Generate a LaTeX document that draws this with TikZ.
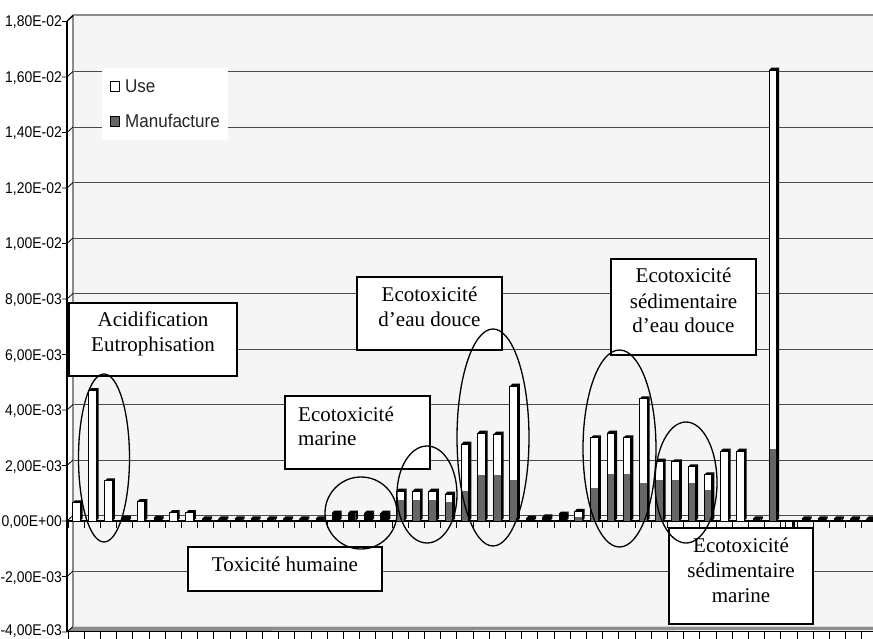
\documentclass[tikz,border=0pt]{standalone}
\usepackage{fontspec}
\setmainfont{Liberation Serif}
\newfontfamily\axisfont[FakeStretch=0.9]{Liberation Sans}
\newfontfamily\legfont[FakeStretch=0.92]{Liberation Sans}
\definecolor{wallfill}{HTML}{F5F5F5}
\definecolor{manu}{HTML}{666666}
\definecolor{wallline}{HTML}{8C8C8C}
\definecolor{gridc}{HTML}{4A4A4A}
\newcommand\mybar[3]{%
  \pgfmathsetmacro\xa{68+16.2*#1+4.5}%
  \pgfmathsetmacro\xb{\xa+7.5}%
  \pgfmathsetmacro\yt{521-27.75*#2}%
  \pgfmathsetmacro\ym{521-27.75*#3}%
  \pgfmathparse{#2<0.29 ? 1 : 0}%
  \fill[black] (\xb,521) -- (\xb,\yt) -- (\xb+2.5,\yt-2.5) -- (\xb+2.5,518.5) -- cycle;
  \fill[black] (\xa,\yt) -- (\xa+2.5,\yt-2.5) -- (\xb+2.5,\yt-2.5) -- (\xb,\yt) -- cycle;
  \ifnum\pgfmathresult=1
    \fill[black] (\xa,\yt) rectangle (\xb,521);
  \else
    \fill[white] (\xa,\yt) rectangle (\xb,\ym);
    \fill[manu] (\xa,\ym) rectangle (\xb,521);
    \draw[black, line width=1pt] (\xa,521) rectangle (\xb,\yt);
  \fi
}
\tikzset{
  note/.style={draw=black, line width=1.8pt, fill=white},
  boxtext/.style={font=\fontsize{21}{25}\selectfont, inner sep=0pt},
  axlab/.style={font=\axisfont\fontsize{15.5}{17}\selectfont, inner sep=0pt, anchor=base east},
  legtext/.style={font=\legfont\fontsize{18.5}{20}\selectfont, inner sep=0pt, anchor=base west, text=black!85},
  ring/.style={draw=black, line width=1.3pt}
}
\begin{document}
\begin{tikzpicture}[x=1pt,y=-1pt]
\useasboundingbox (0,0) rectangle (873,639);
\fill[white] (0,0) rectangle (873,639);
% back wall
\fill[wallfill] (73,15) rectangle (873,626);
% side wall
\fill[white] (67,21) -- (73,15) -- (73,626) -- (67,631) -- cycle;
% gridlines
\foreach \k in {1,...,10} {
  \draw[gridc, line width=0.8pt] (73,{16+55.5*\k}) -- (873,{16+55.5*\k});
}
\draw[wallline, line width=1.6pt] (73,15) -- (873,15);
\draw[wallline, line width=1.6pt] (73,15) -- (73,626);
% floor
\fill[wallline] (67,631) -- (73,626.5) -- (873,626.5) -- (873,630) -- cycle;
\draw[black, line width=1pt] (67,631.5) -- (873,631.5);
% front axis
\draw[black, line width=1.2pt] (67,21) -- (67,632);
\draw[black, line width=0.8pt] (67,21) -- (73,15);
% value ticks and labels
\foreach \k/\lab in {0/{1,80E-02},1/{1,60E-02},2/{1,40E-02},3/{1,20E-02},4/{1,00E-02},5/{8,00E-03},6/{6,00E-03},7/{4,00E-03},8/{2,00E-03},9/{0,00E+00},10/{-2,00E-03}} {
  \draw[black, line width=0.8pt] (62,{21.5+55.5*\k}) -- (67,{21.5+55.5*\k}) -- (73,{16+55.5*\k});
  \node[axlab] (lab\k) at (62,{27+55.5*\k}) {\lab};
}
\draw[black, line width=0.8pt] (62,632) -- (67,632) -- (73,626.5);
\node[axlab] (lab11) at (62,635.5) {-4,00E-03};
% zero line
\draw[black, line width=1.2pt] (67,521) -- (873,521);
% category ticks
\foreach \i in {0,...,50} {
  \draw[black, line width=0.8pt] ({68+16.2*\i},521) -- ({68+16.2*\i},527.5);
  \draw[black, line width=0.8pt] ({68+16.2*\i},631.5) -- ({68+16.2*\i},639);
}
% legend
\fill[white] (102,68) rectangle (228,140);
\filldraw[fill=white, draw=black, line width=1.6pt] (110.5,81.5) rectangle (119.5,91.5);
\filldraw[fill=manu, draw=black, line width=1.6pt] (110.5,116.5) rectangle (119.5,126.5);
\node[legtext] (leguse) at (125,93) {Use};
\node[legtext] (legman) at (125,127.5) {Manufacture};
% bars
\foreach \i/\t/\m in {0/0.65/0, 1/4.7/0, 2/1.45/0, 3/0.1/0, 4/0.7/0, 5/0.1/0, 6/0.3/0, 7/0.3/0,
  8/0.08/0, 9/0.08/0, 10/0.08/0, 11/0.08/0, 12/0.08/0, 13/0.08/0, 14/0.08/0, 15/0.08/0,
  16/0.28/0.28, 17/0.28/0.28, 18/0.28/0.28, 19/0.28/0.28,
  20/1.08/0.75, 21/1.08/0.75, 22/1.08/0.75, 23/0.97/0.7,
  24/2.77/1.08, 25/3.17/1.65, 26/3.13/1.65, 27/4.86/1.48,
  28/0.1/0.1, 29/0.15/0.15, 30/0.25/0.25, 31/0.35/0.15,
  32/3.0/1.19, 33/3.17/1.69, 34/3.0/1.69, 35/4.4/1.37,
  36/2.16/1.48, 37/2.13/1.48, 38/1.95/1.37, 39/1.66/1.12,
  40/2.52/0, 41/2.52/0, 42/0.08/0, 43/16.25/2.6,
  45/0.08/0, 46/0.08/0, 47/0.08/0, 48/0.08/0, 49/0.08/0} {
  \mybar{\i}{\t}{\m}
}
% negative bar
\filldraw[fill=white, draw=black, line width=1pt] ({68+16.2*44+4.5},521) rectangle ({68+16.2*44+12},529);
\fill[black] ({68+16.2*44+12},521) rectangle ({68+16.2*44+14.5},529);
% annotation boxes
\draw[note] (69,303) rectangle (237,376);
\node[boxtext] (t1a) at (153,326) [anchor=base] {Acidification};
\node[boxtext] (t1b) at (153,351) [anchor=base] {Eutrophisation};
\draw[note] (285,396) rectangle (430,469);
\node[boxtext] (t2a) at (298,421) [anchor=base west] {Ecotoxicité};
\node[boxtext] (t2b) at (298,445) [anchor=base west] {marine};
\draw[note] (357,277) rectangle (502,350);
\node[boxtext] (t3a) at (429.5,301) [anchor=base] {Ecotoxicité};
\node[boxtext] (t3b) at (429.5,326) [anchor=base] {d’eau douce};
\draw[note] (611,259) rectangle (756,355);
\node[boxtext] (t4a) at (683.5,282) [anchor=base] {Ecotoxicité};
\node[boxtext] (t4b) at (683.5,308) [anchor=base] {sédimentaire};
\node[boxtext] (t4c) at (683.5,332) [anchor=base] {d’eau douce};
\draw[note] (188,547) rectangle (382,591);
\node[boxtext] (t5) at (285,571) [anchor=base] {Toxicité humaine};
\draw[note] (669,528) rectangle (813,624);
\node[boxtext] (t6a) at (741,552) [anchor=base] {Ecotoxicité};
\node[boxtext] (t6b) at (741,577) [anchor=base] {sédimentaire};
\node[boxtext] (t6c) at (741,602) [anchor=base] {marine};
% ellipses
\draw[ring] (104,458) ellipse [x radius=25.5pt, y radius=84pt];
\draw[ring] (361,513) ellipse [x radius=36pt, y radius=36pt];
\draw[ring] (427,494.5) ellipse [x radius=30pt, y radius=48.5pt];
\draw[ring] (493,437.5) ellipse [x radius=36pt, y radius=108.5pt];
\draw[ring] (619.5,448.5) ellipse [x radius=36.5pt, y radius=98.5pt];
\draw[ring] (686,482.5) ellipse [x radius=31pt, y radius=60.5pt];
\end{tikzpicture}
\end{document}
